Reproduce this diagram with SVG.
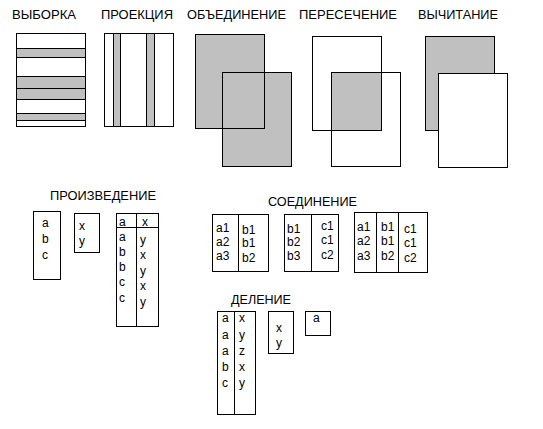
<svg xmlns="http://www.w3.org/2000/svg" width="543" height="429" viewBox="0 0 543 429">
<style>
text{font-family:"Liberation Sans",Arial,sans-serif;font-size:12px;fill:#000}
.t{font-size:12.5px}
.b{fill:#fff;stroke:#000;stroke-width:1}
.g{fill:#c0c0c0;stroke:#000;stroke-width:1}
.n{fill:none;stroke:#000;stroke-width:1}
.l{stroke:#000;stroke-width:1}
</style>
<rect width="543" height="429" fill="#fff"/>
<g id="selection">
<text class="t" x="12" y="19" textLength="64" lengthAdjust="spacingAndGlyphs">ВЫБОРКА</text>
<rect class="b" x="16.5" y="33.5" width="69" height="93"/>
<rect class="g" x="16.5" y="48.5" width="69" height="9"/>
<rect class="g" x="16.5" y="76.5" width="69" height="12"/>
<rect class="g" x="16.5" y="88.5" width="69" height="11"/>
<rect class="g" x="16.5" y="113.5" width="69" height="7"/>
</g>
<g id="projection">
<text class="t" x="101" y="19" textLength="72" lengthAdjust="spacingAndGlyphs">ПРОЕКЦИЯ</text>
<rect class="b" x="104.5" y="33.5" width="69" height="93"/>
<rect class="g" x="113.5" y="33.5" width="7" height="93"/>
<rect class="g" x="146.5" y="33.5" width="8" height="93"/>
</g>
<g id="union">
<text class="t" x="187" y="19" textLength="99" lengthAdjust="spacingAndGlyphs">ОБЪЕДИНЕНИЕ</text>
<rect x="196" y="34" width="68" height="94" fill="#c0c0c0"/>
<rect x="222" y="72" width="69" height="94" fill="#c0c0c0"/>
<rect class="n" x="195.5" y="34.5" width="69" height="94"/>
<rect class="n" x="222.5" y="72.5" width="69" height="94"/>
</g>
<g id="intersection">
<text class="t" x="299" y="19" textLength="98" lengthAdjust="spacingAndGlyphs">ПЕРЕСЕЧЕНИЕ</text>
<rect x="332" y="72" width="49" height="58" fill="#c0c0c0"/>
<rect class="n" x="312.5" y="36.5" width="69" height="94"/>
<rect class="n" x="331.5" y="72.5" width="69" height="94"/>
</g>
<g id="difference">
<text class="t" x="418" y="19" textLength="80" lengthAdjust="spacingAndGlyphs">ВЫЧИТАНИЕ</text>
<rect class="g" x="425.5" y="36.5" width="69" height="94"/>
<rect class="b" x="438.5" y="73.5" width="69" height="94"/>
</g>
<g id="product">
<text class="t" x="50" y="200" textLength="106" lengthAdjust="spacingAndGlyphs">ПРОИЗВЕДЕНИЕ</text>
<rect class="b" x="33.5" y="211.5" width="27" height="68"/>
<text x="42" y="227">a</text><text x="42" y="243">b</text><text x="42" y="259">c</text>
<rect class="b" x="74.5" y="213.5" width="25" height="39"/>
<text x="79" y="230">x</text><text x="79" y="245">y</text>
<rect class="b" x="116.5" y="213.5" width="42" height="113"/>
<line class="l" x1="136.5" y1="213" x2="136.5" y2="327"/>
<line class="l" x1="116" y1="227.5" x2="159" y2="227.5"/>
<text x="119" y="226">a</text><text x="142" y="226">x</text>
<text x="119" y="241">a</text><text x="119" y="256">b</text><text x="119" y="271">b</text><text x="119" y="286">c</text><text x="119" y="302">c</text>
<text x="140" y="244">y</text><text x="140" y="259">x</text><text x="140" y="275">y</text><text x="140" y="290">x</text><text x="140" y="306">y</text>
</g>
<g id="join">
<text class="t" x="268" y="206" textLength="89" lengthAdjust="spacingAndGlyphs">СОЕДИНЕНИЕ</text>
<rect class="b" x="212.5" y="214.5" width="56" height="57"/>
<line class="l" x1="238.5" y1="214" x2="238.5" y2="272"/>
<text x="216" y="232">a1</text><text x="216" y="246">a2</text><text x="216" y="260">a3</text>
<text x="242" y="234">b1</text><text x="242" y="247">b1</text><text x="242" y="262">b2</text>
<rect class="b" x="284.5" y="214.5" width="54" height="57"/>
<line class="l" x1="311.5" y1="214" x2="311.5" y2="272"/>
<text x="287" y="233">b1</text><text x="287" y="246">b2</text><text x="287" y="260">b3</text>
<text x="321" y="230">c1</text><text x="321" y="244">c1</text><text x="321" y="259">c2</text>
<rect class="b" x="354.5" y="212.5" width="73" height="60"/>
<line class="l" x1="376.5" y1="212" x2="376.5" y2="273"/>
<line class="l" x1="398.5" y1="212" x2="398.5" y2="273"/>
<text x="357" y="231">a1</text><text x="357" y="245">a2</text><text x="357" y="260">a3</text>
<text x="381" y="231">b1</text><text x="381" y="245">b1</text><text x="381" y="260">b2</text>
<text x="404" y="233">c1</text><text x="404" y="247">c1</text><text x="404" y="262">c2</text>
</g>
<g id="division">
<text class="t" x="231" y="304" textLength="60" lengthAdjust="spacingAndGlyphs">ДЕЛЕНИЕ</text>
<rect class="b" x="217.5" y="311.5" width="38" height="103"/>
<line class="l" x1="234.5" y1="311" x2="234.5" y2="415"/>
<text x="222" y="322">a</text><text x="222" y="339">a</text><text x="222" y="355">a</text><text x="222" y="371">b</text><text x="222" y="387">c</text>
<text x="239" y="322">x</text><text x="239" y="339">y</text><text x="239" y="355">z</text><text x="239" y="371">x</text><text x="239" y="387">y</text>
<rect class="b" x="268.5" y="311.5" width="25" height="42"/>
<text x="276" y="332">x</text><text x="276" y="347">y</text>
<rect class="b" x="305.5" y="311.5" width="25" height="24"/>
<text x="313" y="322">a</text>
</g>
</svg>
